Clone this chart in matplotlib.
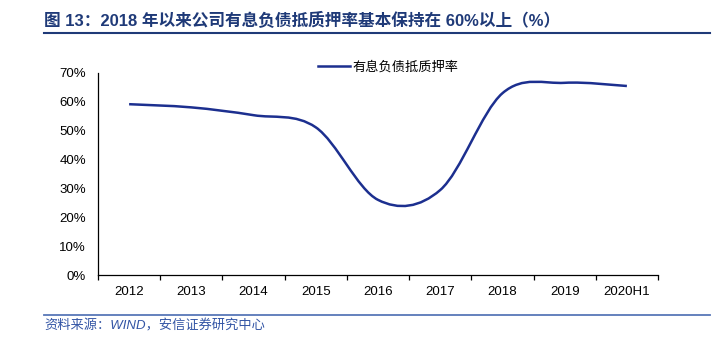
import numpy as np
import matplotlib
matplotlib.use('Agg')
import matplotlib.pyplot as plt
from matplotlib.path import Path
from matplotlib.patches import PathPatch
from matplotlib.lines import Line2D
from matplotlib.ticker import FuncFormatter

plt.rcParams['font.family'] = ['Liberation Sans', 'Noto Sans CJK SC', 'DejaVu Sans']

# data
years = ['2012', '2013', '2014', '2015', '2016', '2017', '2018', '2019', '2020H1']
pledge_ratio = [0.591, 0.580, 0.553, 0.511, 0.260, 0.294, 0.629, 0.665, 0.654]
series_name = '有息负债抵质押率'

title = '图 13：2018 年以来公司有息负债抵质押率基本保持在 60%以上（%）'
source = '资料来源：WIND，安信证券研究中心'

line_color = '#1c2f8f'
title_color = '#1f3a78'
source_color = '#3355a5'

W, H = 714, 344
fig = plt.figure(figsize=(W / 100, H / 100), dpi=100)
ax = fig.add_axes([98 / W, 1 - 275 / H, 560 / W, (275 - 72.7) / H])

# smoothed line (bezier through the points, like office "smoothed line")
x = np.arange(len(years), dtype=float)
y = np.array(pledge_ratio)
px = np.concatenate([[x[0]], x, [x[-1]]])
py = np.concatenate([[y[0]], y, [y[-1]]])
verts = [(x[0], y[0])]
codes = [Path.MOVETO]
for i in range(1, len(px) - 2):
    c1 = (px[i] + (px[i + 1] - px[i - 1]) / 6, py[i] + (py[i + 1] - py[i - 1]) / 6)
    c2 = (px[i + 1] - (px[i + 2] - px[i]) / 6, py[i + 1] - (py[i + 2] - py[i]) / 6)
    verts += [c1, c2, (px[i + 1], py[i + 1])]
    codes += [Path.CURVE4] * 3
ax.add_patch(PathPatch(Path(verts, codes), facecolor='none', edgecolor=line_color,
                       lw=1.8, capstyle='butt', joinstyle='round'))

ax.set_xlim(-0.5, len(years) - 0.5)
ax.set_ylim(0, 0.7)
ax.set_yticks(np.arange(0, 0.71, 0.1))
ax.yaxis.set_major_formatter(FuncFormatter(lambda v, p: '%d%%' % round(v * 100)))
ax.tick_params(axis='y', length=0, pad=8.5, labelsize=9.5, colors='black')

ax.set_xticks(np.arange(-0.5, len(years), 1.0))
ax.set_xticklabels([])
ax.set_xticks(x, minor=True)
ax.set_xticklabels(years, minor=True)
ax.tick_params(axis='x', which='major', length=3.5, width=0.9, direction='out')
ax.tick_params(axis='x', which='minor', length=0, pad=8, labelsize=9.5)

for s in ['top', 'right']:
    ax.spines[s].set_visible(False)
ax.spines['left'].set_linewidth(0.9)
ax.spines['bottom'].set_linewidth(0.9)

handle = Line2D([], [], color=line_color, lw=1.8)
ax.legend([handle], [series_name], loc='center left',
          bbox_to_anchor=(318 / W, 1 - 67 / H), bbox_transform=fig.transFigure,
          frameon=False, borderpad=0, borderaxespad=0, handlelength=2.4,
          handletextpad=0.25,
          prop={'family': ['Noto Sans CJK SC'], 'size': 9.5, 'weight': 'light'})

# title and source
fig.text(44 / W, 1 - 20 / H, title, ha='left', va='center', fontsize=12,
         fontweight='bold', color=title_color)
fig.add_artist(Line2D([44 / W, 710 / W], [1 - 33 / H, 1 - 33 / H], color=title_color, lw=1.5))
fig.add_artist(Line2D([44 / W, 710 / W], [1 - 315 / H, 1 - 315 / H], color='#5877b8', lw=1.3))
fig.text(44 / W, 1 - 326 / H, source, ha='left', va='center', fontsize=9.5,
         style='italic', weight='light', color=source_color)

fig.savefig('out.png', dpi=100)
